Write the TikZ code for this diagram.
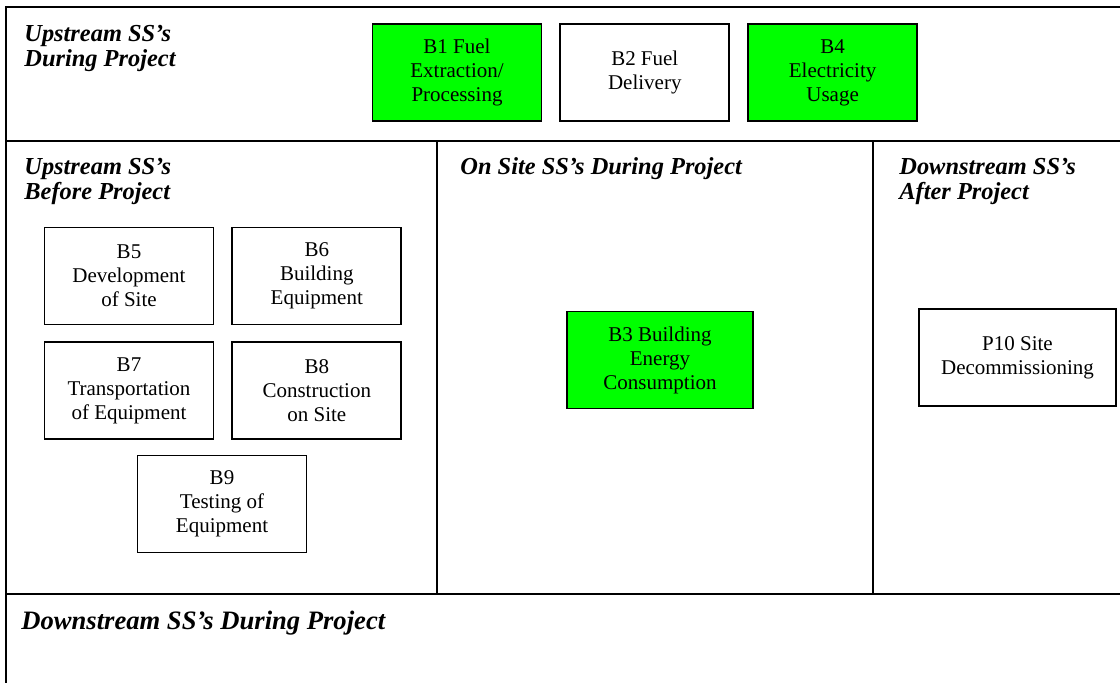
\documentclass[tikz,border=0pt]{standalone}
\usepackage{fontspec}
\setmainfont{Liberation Serif}
\usepackage{tikz}
\usetikzlibrary{positioning}
\definecolor{ssgreen}{HTML}{00FF00}
\tikzset{
ssbox/.style={draw,line width=0.9pt,align=center,inner sep=0pt,minimum width=84.5pt,minimum height=48.5pt,font=\fontsize{10.5}{12}\selectfont},
greenbox/.style={ssbox,fill=ssgreen},
sshead/.style={anchor=base west,align=left,inner sep=0pt,font=\bfseries\itshape\fontsize{12.2}{12.5}\selectfont},
frameline/.style={line width=1.1pt}
}

\begin{document}
\begin{tikzpicture}[x=0.5pt,y=-0.5pt]
\useasboundingbox (0,0) rectangle (1120,682);
\clip (0,0) rectangle (1120,682);
% frame and bands
\draw[frameline] (6,7) rectangle (1130,700);
\draw[frameline] (6,141) -- (1130,141);
\draw[frameline] (6,594) -- (1130,594);
\draw[frameline] (437,141) -- (437,594);
\draw[frameline] (873,141) -- (873,594);

% headings (base = last line)
\node[sshead] (hupdur) at (24,66) {Upstream SS's\\During Project};
\node[sshead] (hupbef) at (24,199) {Upstream SS's\\Before Project};
\node[sshead] (honsite) at (460,174) {On Site SS's During Project};
\node[sshead] (hdownaft) at (899,199) {Downstream SS's\\After Project};
\node[sshead,font=\bfseries\itshape\fontsize{13.3}{14}\selectfont] (hdowndur) at (21,629) {Downstream SS's During Project};

% upstream during project
\node[greenbox] (b1) at (457,72.5) {B1 Fuel\\Extraction/\\Processing};
\node[ssbox,right=8.5pt of b1] (b2) {B2 Fuel\\Delivery};
\node[greenbox,right=8.5pt of b2] (b4) {B4\\Electricity\\Usage};

% upstream before project
\node[ssbox] (b5) at (129,276) {B5\\Development\\of Site};
\node[ssbox,right=8.5pt of b5] (b6) {B6\\Building\\Equipment};
\node[ssbox,below=8pt of b5] (b7) {B7\\Transportation\\of Equipment};
\node[ssbox,below=8pt of b6] (b8) {B8\\Construction\\on Site};
\node[ssbox] (b9) at (222,504) {B9\\Testing of\\Equipment};

% on site and after
\node[greenbox,minimum width=93pt] (b3) at (660,360) {B3 Building\\Energy\\Consumption};
\node[ssbox,minimum width=98.5pt] (p10) at (1017.5,357.5) {P10 Site\\Decommissioning};
\end{tikzpicture}
\end{document}
